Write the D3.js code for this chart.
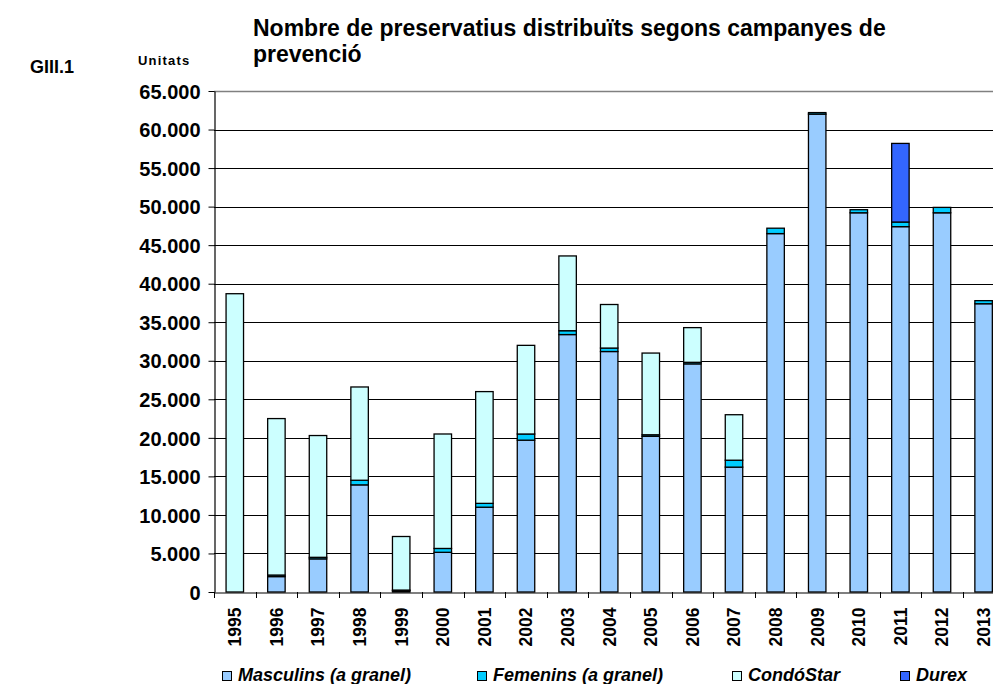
<!DOCTYPE html>
<html>
<head>
<meta charset="utf-8">
<script src="https://cdn.jsdelivr.net/npm/d3@7"></script>
<style>
  html, body { margin: 0; padding: 0; background: #fff; overflow: hidden; }
  svg { display: block; font-family: "Liberation Sans", Arial, sans-serif; }
</style>
</head>
<body>
<svg id="chart" width="993" height="684"></svg>
<script>
const years = ["1995","1996","1997","1998","1999","2000","2001","2002","2003","2004","2005","2006","2007","2008","2009","2010","2011","2012","2013"];
const masculins = [0, 2000, 4300, 13900, 150, 5150, 11000, 19700, 33400, 31200, 20200, 29600, 16200, 46500, 62000, 49200, 47400, 49200, 37400];
const femenins  = [0, 200, 200, 600, 100, 500, 500, 800, 500, 450, 200, 200, 900, 700, 200, 400, 600, 700, 400];
const condostar = [38700, 20300, 15800, 12100, 6950, 14850, 14500, 11500, 9700, 5650, 10600, 4500, 5900, 0, 0, 0, 0, 0, 0];
const durex     = [0, 0, 0, 0, 0, 0, 0, 0, 0, 0, 0, 0, 0, 0, 0, 0, 10200, 0, 0];
const seriesNames = ["Masculins (a granel)", "Femenins (a granel)", "CondóStar", "Durex"];
const yTicks = [0, 5000, 10000, 15000, 20000, 25000, 30000, 35000, 40000, 45000, 50000, 55000, 60000, 65000];

const colors = ["#99CCFF", "#00CCFF", "#CCFFFF", "#3366FF"];
const seriesValues = [masculins, femenins, condostar, durex];

const svg = d3.select("#chart");
const pLeft = 214, pTop = 91, pBottom = 592, step = 41.6;
const pRight = pLeft + step * years.length;

const x = d3.scaleBand().domain(years).range([pLeft, pRight]).padding(0);
const y = d3.scaleLinear().domain([0, 65000]).range([pBottom, pTop]);
const barW = x.bandwidth() * 0.42;

// gridlines
svg.append("g").selectAll("line").data(yTicks.filter(d => d > 0)).join("line")
  .attr("x1", pLeft).attr("x2", 993)
  .attr("y1", d => Math.round(y(d)) + 0.5).attr("y2", d => Math.round(y(d)) + 0.5)
  .attr("stroke", d => d === 65000 ? "#808080" : "#000")
  .attr("stroke-width", d => d === 65000 ? 1.5 : 1);

// stacked data
const table = years.map((yr, i) => {
  const o = { year: yr };
  seriesNames.forEach((s, j) => o[s] = seriesValues[j][i]);
  return o;
});
const stack = d3.stack().keys(seriesNames)(table);

svg.append("g").selectAll("g").data(stack).join("g")
  .attr("fill", (d, i) => colors[i])
  .selectAll("rect").data(d => d.filter(p => p[1] - p[0] > 0)).join("rect")
  .attr("x", d => x(d.data.year) + (x.bandwidth() - barW) / 2)
  .attr("width", barW)
  .attr("y", d => y(d[1]))
  .attr("height", d => y(d[0]) - y(d[1]))
  .attr("stroke", "#000")
  .attr("stroke-width", 1.3);

// y axis
const yAxis = d3.axisLeft(y).tickValues(yTicks).tickSize(6).tickSizeOuter(0)
  .tickFormat(d => d3.format(",")(d).replace(/,/g, "."));
const gy = svg.append("g").attr("transform", `translate(${pLeft + 0.5},0)`).call(yAxis);
gy.select(".domain").attr("stroke", "#000").attr("stroke-width", 1.2);
gy.selectAll(".tick line").attr("stroke", "#000");
gy.selectAll(".tick text").attr("x", -14).attr("dy", "0.36em")
  .style("font-size", "20px").style("font-weight", "bold").attr("fill", "#000")
  .style("font-family", "'Liberation Sans', Arial, sans-serif");

// x axis
const xAxis = d3.axisBottom(x).tickSize(0).tickSizeOuter(0);
const gx = svg.append("g").attr("transform", `translate(0,${pBottom + 0.5})`).call(xAxis);
gx.select(".domain").attr("stroke", "#000").attr("stroke-width", 1.2);
gx.selectAll(".tick text")
  .attr("transform", "rotate(-90)")
  .attr("x", -15).attr("y", 0).attr("dy", "0.36em")
  .style("text-anchor", "end")
  .style("font-size", "17.5px").style("font-weight", "bold").attr("fill", "#000")
  .style("font-family", "'Liberation Sans', Arial, sans-serif");
// boundary ticks
svg.append("g").selectAll("line").data(d3.range(years.length + 1)).join("line")
  .attr("x1", i => Math.round(pLeft + i * step) + 0.5).attr("x2", i => Math.round(pLeft + i * step) + 0.5)
  .attr("y1", pBottom).attr("y2", pBottom + 6)
  .attr("stroke", "#000");

// titles
const title = svg.append("text").attr("x", 253).attr("y", 36)
  .style("font-size", "23px").style("font-weight", "bold").attr("fill", "#000");
title.append("tspan").attr("x", 253).attr("y", 36).text("Nombre de preservatius distribuïts segons campanyes de");
title.append("tspan").attr("x", 253).attr("y", 62).text("prevenció");

svg.append("text").attr("x", 30).attr("y", 73)
  .style("font-size", "18px").style("font-weight", "bold").text("GIII.1");
svg.append("text").attr("x", 138).attr("y", 65)
  .style("font-size", "13px").style("font-weight", "bold").style("letter-spacing", "1.2px").text("Unitats");

// legend
const legX = [222, 477, 732, 900];
const lg = svg.append("g").selectAll("g").data(seriesNames).join("g")
  .attr("transform", (d, i) => `translate(${legX[i]},0)`);
lg.append("rect").attr("x", 0.5).attr("y", 671.5).attr("width", 9).attr("height", 9)
  .attr("fill", (d, i) => colors[i]).attr("stroke", "#000").attr("stroke-width", 1);
lg.append("text").attr("x", 16).attr("y", 681)
  .style("font-size", "18px").style("font-weight", "bold").style("font-style", "italic")
  .text(d => d);
</script>
</body>
</html>
